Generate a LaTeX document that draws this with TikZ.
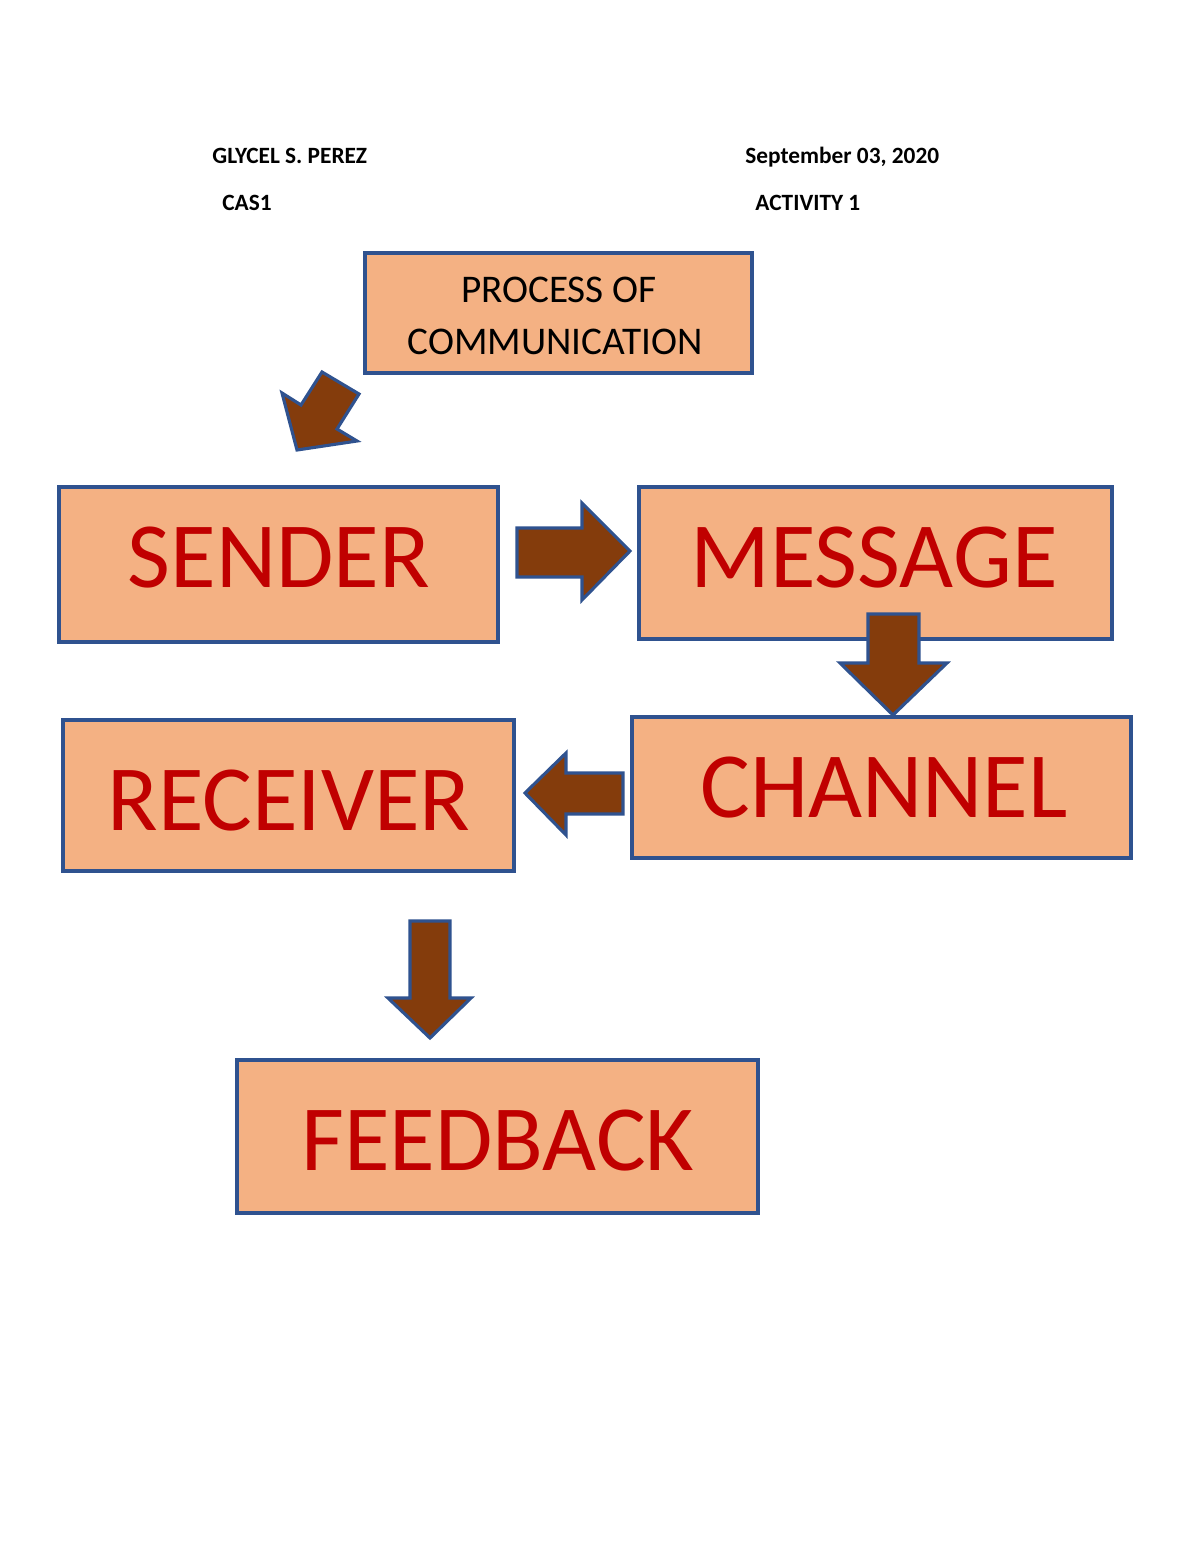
\documentclass[tikz,border=0pt]{standalone}
\usepackage{fontspec}
\setmainfont{Carlito}
\definecolor{boxfill}{HTML}{F4B183}
\definecolor{boxline}{HTML}{2F528F}
\definecolor{arrowfill}{HTML}{843C0C}
\definecolor{bigred}{HTML}{C00000}
\begin{document}
\begin{tikzpicture}[x=0.51pt,y=-0.51pt,
  box/.style={draw=boxline,fill=boxfill,line width=1.6pt},
  blockarrow/.style={draw=boxline,fill=arrowfill,line width=1.6pt,line join=miter},
  bigtext/.style={anchor=base,inner sep=0pt,text=bigred,font=\fontsize{47.6}{57}\selectfont},
  head/.style={anchor=base west,inner sep=0pt,font=\bfseries\fontsize{11.9}{14}\selectfont},
  titletext/.style={anchor=base,inner sep=0pt,font=\fontsize{20}{24}\selectfont}]
\useasboundingbox[fill=white] (0,0) rectangle (1200,1553);
% header
\node[head] (name) at (212,164) {GLYCEL S. PEREZ};
\node[head] (date) at (745,164) {September 03, 2020};
\node[head] (cas) at (222,211) {CAS1};
\node[head] (act) at (755,211) {ACTIVITY 1};
% boxes
\draw[box] (365,253) rectangle (752,373);
\node[titletext] (t1) at (559,302) {PROCESS OF};
\node[titletext] (t2) at (555,354) {COMMUNICATION};
\draw[box] (59,487) rectangle (498,642);
\node[bigtext] (sender) at (279,587) {SENDER};
\draw[box] (639,487) rectangle (1112,639);
\node[bigtext] (message) at (874,587) {MESSAGE};
% arrow message -> channel
\draw[blockarrow] (868,614) -- (919,614) -- (919,663) -- (947,663) -- (893,715) -- (840,663) -- (868,663) -- cycle;
\draw[box] (632,717) rectangle (1131,858);
\node[bigtext] (channel) at (884,817) {CHANNEL};
\draw[box] (63,720) rectangle (514,871);
\node[bigtext] (receiver) at (289,830) {RECEIVER};
\draw[box] (237,1060) rectangle (758,1213);
\node[bigtext] (feedback) at (498,1170) {FEEDBACK};
% arrows
\draw[blockarrow] (322,372) -- (359,394) -- (337,429) -- (357,441) -- (297,450) -- (282,393) -- (301,405) -- cycle;
\draw[blockarrow] (517,528) -- (582,528) -- (582,503) -- (630,551) -- (582,600) -- (582,577) -- (517,577) -- cycle;
\draw[blockarrow] (623,773) -- (566,773) -- (566,753) -- (525,793) -- (566,835) -- (566,814) -- (623,814) -- cycle;
\draw[blockarrow] (410,921) -- (450,921) -- (450,998) -- (471,998) -- (430,1038) -- (388,998) -- (410,998) -- cycle;
\end{tikzpicture}
\end{document}
